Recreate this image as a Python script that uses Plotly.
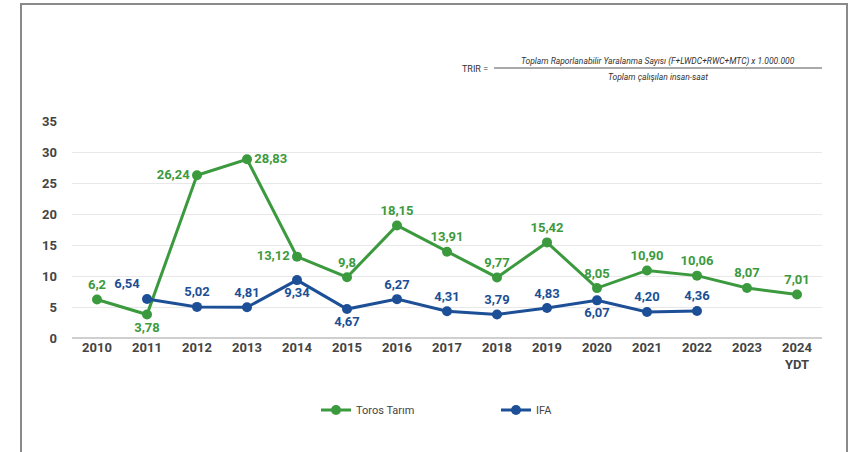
import plotly.graph_objects as go

years = ["2010", "2011", "2012", "2013", "2014", "2015", "2016", "2017",
         "2018", "2019", "2020", "2021", "2022", "2023", "2024"]
tick_text = years[:-1] + ["2024<br>YDT"]

toros = [6.2, 3.78, 26.24, 28.83, 13.12, 9.8, 18.15, 13.91, 9.77, 15.42,
         8.05, 10.90, 10.06, 8.07, 7.01]
toros_labels = ["6,2", "3,78", "26,24", "28,83", "13,12", "9,8", "18,15", "13,91",
                "9,77", "15,42", "8,05", "10,90", "10,06", "8,07", "7,01"]

ifa_years = years[1:13]
ifa = [6.3, 5.02, 4.95, 9.34, 4.67, 6.27, 4.31, 3.79, 4.83, 6.07, 4.20, 4.36]
ifa_labels = ["6,54", "5,02", "4,81", "9,34", "4,67", "6,27", "4,31", "3,79",
              "4,83", "6,07", "4,20", "4,36"]

GREEN = "#3c9a3e"
BLUE = "#1d4f96"

toros_pos = ["top center", "bottom center", "middle left", "middle right", "middle left"] + \
    ["top center"] * 10
ifa_pos = ["top left", "top center", "top center", "bottom center", "bottom center",
           "top center", "top center", "top center", "top center", "bottom center",
           "top center", "top center"]

# plot area in pixels: x 72..822, y 121..338
L, R, T, B = 72, 822, 121, 338


def px_x(p):
    return (p - L) / (R - L)


def px_y(p):
    return (B - p) / (B - T)


fig = go.Figure()
fig.add_trace(go.Scatter(
    x=years, y=toros, name="Toros Tarım", mode="lines+markers+text",
    line=dict(color=GREEN, width=3), marker=dict(color=GREEN, size=10),
    text=toros_labels, textposition=toros_pos,
    textfont=dict(color=GREEN, size=13, family="Roboto", weight="bold"),
    cliponaxis=False,
))
fig.add_trace(go.Scatter(
    x=ifa_years, y=ifa, name="IFA", mode="lines+markers+text",
    line=dict(color=BLUE, width=3), marker=dict(color=BLUE, size=10),
    text=ifa_labels, textposition=ifa_pos,
    textfont=dict(color=BLUE, size=13, family="Roboto", weight="bold"),
    cliponaxis=False,
))

# outer frame
fig.add_shape(type="path", xref="paper", yref="paper",
              path=f"M {px_x(21)} {px_y(480)} L {px_x(21)} {px_y(4)} "
                   f"L {px_x(847)} {px_y(4)} L {px_x(847)} {px_y(480)}",
              line=dict(color="#8a8a8a", width=2))

# TRIR formula
fig.add_shape(type="line", xref="paper", yref="paper",
              x0=px_x(494), x1=px_x(822), y0=px_y(68), y1=px_y(68),
              line=dict(color="#555", width=1))
fig.add_annotation(xref="paper", yref="paper", x=px_x(490), y=px_y(69),
                   xanchor="right", yanchor="middle", showarrow=False,
                   text="TRIR =", font=dict(size=9, color="#333", family="Roboto"))
fig.add_annotation(xref="paper", yref="paper", x=px_x(658), y=px_y(61),
                   xanchor="center", yanchor="middle", showarrow=False,
                   text="<i>Toplam Raporlanabilir Yaralanma Sayısı (F+LWDC+RWC+MTC) x 1.000.000</i>",
                   font=dict(size=8.5, color="#333", family="Roboto"))
fig.add_annotation(xref="paper", yref="paper", x=px_x(658), y=px_y(77),
                   xanchor="center", yanchor="middle", showarrow=False,
                   text="<i>Toplam çalışılan insan-saat</i>",
                   font=dict(size=8.5, color="#333", family="Roboto"))

fig.update_layout(
    width=852, height=452,
    margin=dict(l=L, r=852 - R, t=T, b=452 - B),
    paper_bgcolor="white", plot_bgcolor="white",
    font=dict(family="Roboto", color="#444"),
    showlegend=True,
    legend=dict(orientation="h", x=px_x(496), y=px_y(410), xanchor="center", yanchor="middle",
                font=dict(size=11, color="#444"), itemwidth=30, tracegroupgap=0,
                entrywidth=135, entrywidthmode="pixels"),
    xaxis=dict(type="category", categoryorder="array", categoryarray=years,
               tickvals=years, ticktext=tick_text, range=[-0.5, 14.5],
               showgrid=False, showline=False, ticks="",
               tickfont=dict(size=13, color="#444", weight="bold")),
    yaxis=dict(range=[0, 35], dtick=5, showgrid=True, gridcolor="#e8e8e8", gridwidth=1,
               zeroline=True, zerolinecolor="#cfcfcf", zerolinewidth=2,
               ticks="", ticklabelstandoff=14,
               tickfont=dict(size=13, color="#444", weight="bold")),
)

fig.write_html("out.html", config={"displayModeBar": False},
               post_script="document.body.style.margin='0';")
